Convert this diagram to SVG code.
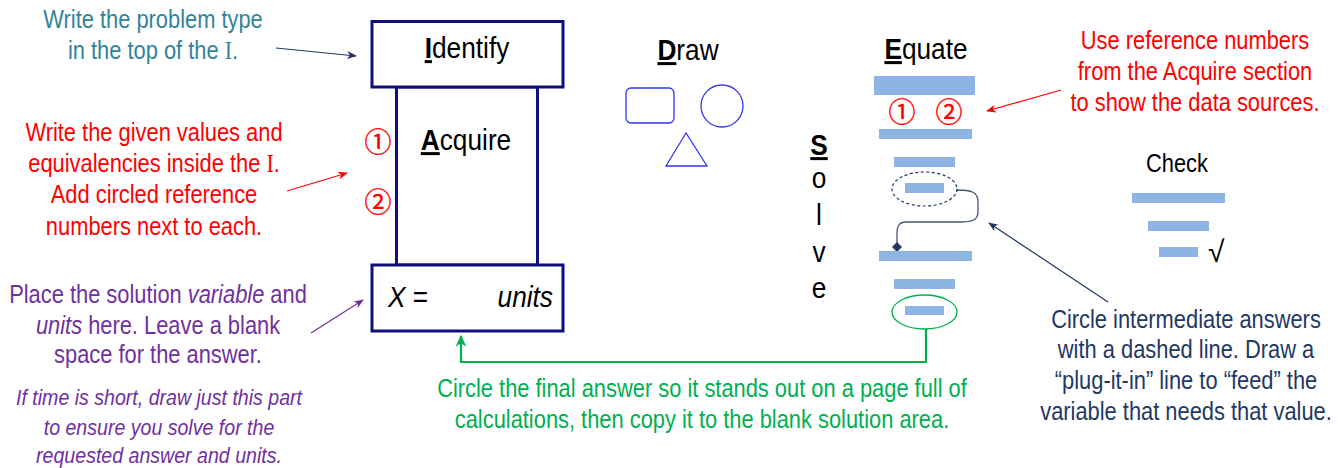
<svg xmlns="http://www.w3.org/2000/svg" width="1340" height="468" viewBox="0 0 1340 468">
<style>
text{font-family:"Liberation Sans",Arial,sans-serif;}
.lbl{font-size:30px;fill:#000;}
.note{font-size:25px;}
.small{font-size:22px;font-style:italic;fill:#7030a0;}
.box{fill:#fff;stroke:#10107c;stroke-width:3;}
.bar{fill:#8eb4e3;}
.shape{fill:none;stroke:#3535f2;stroke-width:1.3;}
.num{font-family:"Noto Sans CJK JP","DejaVu Sans",sans-serif;font-size:27px;fill:#ff0000;stroke:#ff0000;stroke-width:0.4;}
.ul{font-weight:bold;text-decoration:underline;}
.serif{font-family:"Liberation Serif","Times New Roman",serif;}
</style>
<defs>
<marker id="aNavy" viewBox="0 0 10 10" refX="9" refY="5" markerWidth="10" markerHeight="10" markerUnits="userSpaceOnUse" orient="auto"><path d="M0,1 L10,5 L0,9 L3,5 z" fill="#1f3864"/></marker>
<marker id="aRed" viewBox="0 0 10 10" refX="9" refY="5" markerWidth="10" markerHeight="10" markerUnits="userSpaceOnUse" orient="auto"><path d="M0,1 L10,5 L0,9 L3,5 z" fill="#ff0000"/></marker>
<marker id="aPurple" viewBox="0 0 10 10" refX="9" refY="5" markerWidth="10" markerHeight="10" markerUnits="userSpaceOnUse" orient="auto"><path d="M0,1 L10,5 L0,9 L3,5 z" fill="#7030a0"/></marker>
<marker id="aGreen" viewBox="0 0 10 10" refX="9" refY="5" markerWidth="12" markerHeight="12" markerUnits="userSpaceOnUse" orient="auto"><path d="M0,0.5 L10,5 L0,9.5 L3,5 z" fill="#00b050"/></marker>
<marker id="dia" viewBox="0 0 10 10" refX="5" refY="5" markerWidth="10" markerHeight="10" markerUnits="userSpaceOnUse" orient="auto"><path d="M5,0 L10,5 L5,10 L0,5 z" fill="#1f3864"/></marker>
</defs>
<rect width="1340" height="468" fill="#fff"/>

<g id="connectors" fill="none">
<line x1="276" y1="48" x2="356" y2="56" stroke="#1f3864" stroke-width="1.2" marker-end="url(#aNavy)"/>
<line x1="287" y1="191" x2="347" y2="173" stroke="#ff0000" stroke-width="1.2" marker-end="url(#aRed)"/>
<line x1="311" y1="333" x2="363" y2="300" stroke="#7030a0" stroke-width="1.2" marker-end="url(#aPurple)"/>
<line x1="1061" y1="90" x2="987" y2="111" stroke="#ff0000" stroke-width="1.2" marker-end="url(#aRed)"/>
<line x1="1108" y1="302" x2="989" y2="223" stroke="#1f3864" stroke-width="1.2" marker-end="url(#aNavy)"/>
<polyline points="926,329 926,362 461,362 461,336" stroke="#00b050" stroke-width="2.2" marker-end="url(#aGreen)"/>
<path d="M956,190 C972,190 978,192 978,202 L978,212 C978,220 972,222 960,222 L906,222 C899,222 897,226 897,234 L897,247" stroke="#44577a" stroke-width="1.3" marker-end="url(#dia)"/>
</g>

<g id="acquire">
<rect class="box" x="396.5" y="87" width="141" height="178"/>
<g transform="translate(466 0) scale(0.875 1)"><text class="lbl" x="0" y="150" text-anchor="middle"><tspan class="ul">A</tspan>cquire</text></g>
<text class="num" x="378" y="152" text-anchor="middle">①</text>
<text class="num" x="378" y="212" text-anchor="middle">②</text>
</g>
<g id="identify">
<rect class="box" x="372" y="21.5" width="191" height="65.5"/>
<g transform="translate(467 0) scale(0.875 1)"><text class="lbl" x="0" y="58" text-anchor="middle"><tspan class="ul">I</tspan>dentify</text></g>
</g>
<g id="solution">
<rect class="box" x="372" y="265" width="191" height="66"/>
<g transform="translate(388 0) scale(0.875 1)"><text class="lbl" x="0" y="307"><tspan font-style="italic">X</tspan> =</text></g>
<g transform="translate(553 0) scale(0.875 1)"><text class="lbl" x="0" y="307" text-anchor="end" font-style="italic">units</text></g>
</g>

<g id="draw">
<g transform="translate(688 0) scale(0.875 1)"><text class="lbl" x="0" y="60" text-anchor="middle"><tspan class="ul">D</tspan>raw</text></g>
<rect class="shape" x="626" y="88" width="48" height="35" rx="5"/>
<circle class="shape" cx="722" cy="106" r="21"/>
<polygon class="shape" points="686,133 666,166 707,166"/>
</g>

<g id="equate">
<g transform="translate(926 0) scale(0.875 1)"><text class="lbl" x="0" y="59" text-anchor="middle"><tspan class="ul">E</tspan>quate</text></g>
<rect class="bar" x="874" y="76" width="101" height="19"/>
<text class="num" x="902" y="122" text-anchor="middle">①</text>
<text class="num" x="949" y="122" text-anchor="middle">②</text>
<rect class="bar" x="879" y="129" width="93" height="10"/>
<rect class="bar" x="894" y="157" width="61" height="10"/>
<ellipse cx="924.5" cy="189" rx="32.5" ry="17" fill="none" stroke="#1f3864" stroke-width="1.2" stroke-dasharray="3,2.5"/>
<rect class="bar" x="905" y="183" width="39" height="10"/>
<rect class="bar" x="879" y="251" width="93" height="10"/>
<rect class="bar" x="894" y="279" width="61" height="10"/>
<ellipse cx="924.5" cy="312" rx="32.5" ry="17" fill="none" stroke="#00b050" stroke-width="1.3"/>
<rect class="bar" x="905" y="306" width="39" height="9"/>
</g>

<g id="solve">
<g transform="translate(819 0) scale(0.875 1)">
<text class="lbl" x="0" y="155" text-anchor="middle"><tspan class="ul">S</tspan></text>
<text class="lbl" x="0" y="188" text-anchor="middle">o</text>
<text class="lbl" x="0" y="225" text-anchor="middle">l</text>
<text class="lbl" x="0" y="262" text-anchor="middle">v</text>
<text class="lbl" x="0" y="298" text-anchor="middle">e</text>
</g>
</g>

<g id="check">
<g transform="translate(1177 0) scale(0.875 1)"><text class="note" x="0" y="172" text-anchor="middle" fill="#000">Check</text></g>
<rect class="bar" x="1132" y="193" width="93" height="10"/>
<rect class="bar" x="1148" y="221" width="61" height="10"/>
<rect class="bar" x="1159" y="247" width="39" height="10"/>
<text x="1208" y="262" font-family="Liberation Serif,serif" font-size="30" fill="#000">√</text>
</g>

<g id="note-identify">
<g transform="translate(153 0) scale(0.875 1)">
<text class="note" fill="#31849b" text-anchor="middle"><tspan x="0" y="28">Write the problem type</tspan><tspan x="0" y="59">in the top of the <tspan class="serif">I</tspan>.</tspan></text>
</g>
</g>

<g id="note-acquire">
<g transform="translate(154 0) scale(0.875 1)">
<text class="note" fill="#ff0000" text-anchor="middle"><tspan x="0" y="141">Write the given values and</tspan><tspan x="0" y="172">equivalencies inside the <tspan class="serif">I</tspan>.</tspan><tspan x="0" y="203">Add circled reference</tspan><tspan x="0" y="235">numbers next to each.</tspan></text>
</g>
</g>

<g id="note-solution">
<g transform="translate(158 0) scale(0.875 1)">
<text class="note" fill="#7030a0" text-anchor="middle"><tspan x="0" y="303">Place the solution <tspan font-style="italic">variable</tspan> and</tspan><tspan x="0" y="334"><tspan font-style="italic">units</tspan> here. Leave a blank</tspan><tspan x="0" y="363">space for the answer.</tspan></text>
</g>
<g transform="translate(159 0) scale(0.89 1)">
<text class="small" text-anchor="middle"><tspan x="0" y="405">If time is short, draw just this part</tspan><tspan x="0" y="435">to ensure you solve for the</tspan><tspan x="0" y="463">requested answer and units.</tspan></text>
</g>
</g>

<g id="note-equate">
<g transform="translate(1195 0) scale(0.875 1)">
<text class="note" fill="#ff0000" text-anchor="middle"><tspan x="0" y="49">Use reference numbers</tspan><tspan x="0" y="80">from the Acquire section</tspan><tspan x="0" y="111">to show the data sources.</tspan></text>
</g>
</g>

<g id="note-intermediate">
<g transform="translate(1186 0) scale(0.875 1)">
<text class="note" fill="#1f3864" text-anchor="middle"><tspan x="0" y="328">Circle intermediate answers</tspan><tspan x="0" y="358">with a dashed line. Draw a</tspan><tspan x="0" y="389">“plug-it-in” line to “feed” the</tspan><tspan x="0" y="420">variable that needs that value.</tspan></text>
</g>
</g>

<g id="note-final">
<g transform="translate(702 0) scale(0.875 1)">
<text class="note" fill="#00b050" text-anchor="middle"><tspan x="0" y="397">Circle the final answer so it stands out on a page full of</tspan><tspan x="0" y="428">calculations, then copy it to the blank solution area.</tspan></text>
</g>
</g>
</svg>
